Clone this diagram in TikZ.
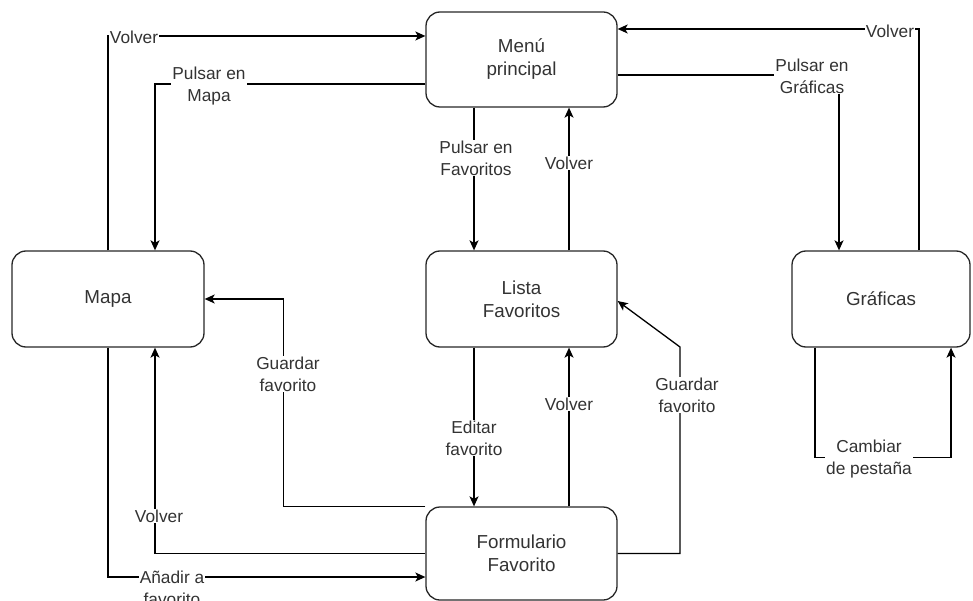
\documentclass[tikz,border=0pt]{standalone}
\usepackage{fontspec}
\setmainfont{Liberation Sans}
\usetikzlibrary{arrows.meta}
\definecolor{txt}{RGB}{51,51,51}
\tikzset{
  box/.style={draw=black!85, line width=1.3pt, rounded corners=14pt, minimum width=191pt, minimum height=95pt, align=center, text=txt, font=\fontsize{18.8}{23}\selectfont},
  lbl/.style={fill=white, inner sep=1pt, align=center, text=txt, font=\fontsize{17.3}{22}\selectfont},
  arr/.style={draw=black, line width=1.3pt, -{Stealth[length=10pt,width=9pt,inset=2.5pt]}},
  ln/.style={draw=black, line width=1.3pt}
}
\begin{document}
\begin{tikzpicture}[x=1pt,y=-1pt]
\useasboundingbox (0,0) rectangle (973,601);
% nodes
\node[box] (menu) at (521.5,59.5) {Menú\\principal};
\node[box, minimum height=96pt] (lista) at (521.5,299) {Lista\\Favoritos};
\node[box, minimum height=93pt] (form) at (521.5,553.5) {Formulario\\Favorito};
\node[box, minimum width=192pt, minimum height=96pt] (mapa) at (108,299) {Mapa};
\node[box, minimum width=178pt, minimum height=96pt] (graf) at (881,299) {Gráficas};
% connectors
\draw[arr] (mapa.north) |- ([yshift=23.5pt]menu.west);
\draw[arr] ([yshift=-24.5pt]menu.west) -| ([xshift=47pt]mapa.north);
\draw[arr] ([yshift=-15.5pt]menu.east) -| ([xshift=-42pt]graf.north);
\draw[arr] ([xshift=38pt]graf.north) |- ([yshift=30.5pt]menu.east);
\draw[arr] ([xshift=-47.5pt]menu.south) -- ([xshift=-47.5pt]lista.north);
\draw[arr] ([xshift=47.5pt]lista.north) -- ([xshift=47.5pt]menu.south);
\draw[arr] ([xshift=-47.5pt]lista.south) -- ([xshift=-47.5pt]form.north);
\draw[arr] ([xshift=47.5pt]form.north) -- ([xshift=47.5pt]lista.south);
\coordinate (g9) at (680,347);
\draw[arr] (form.east) -| (g9) -- ([yshift=-2pt]lista.east);
\draw[arr] (form.north west) -| ([xshift=79pt]mapa.east) -- (mapa.east);
\draw[arr] (form.west) -| ([xshift=47pt]mapa.south);
\draw[arr] (mapa.south) |- ([yshift=-23.5pt]form.west);
\draw[arr] ([xshift=-66pt]graf.south) -- ++(0,110) -| ([xshift=70pt]graf.south);
% labels
\node[lbl] (l1) at (134,37) {Volver};
\node[lbl] (l2) at (209,86) {Pulsar en\\Mapa};
\node[lbl] (l3) at (812,76) {Pulsar en\\Gráficas};
\node[lbl] (l4) at (890,31) {Volver};
\node[lbl] (l5) at (476,158) {Pulsar en\\Favoritos};
\node[lbl] (l6) at (569,163) {Volver};
\node[lbl] (l7) at (474,438) {Editar\\favorito};
\node[lbl] (l8) at (569,404) {Volver};
\node[lbl] (l9) at (687,395) {Guardar\\favorito};
\node[lbl] (l10) at (288,374) {Guardar\\favorito};
\node[lbl] (l11) at (159,516) {Volver};
\node[lbl] (l12) at (172,588) {Añadir a\\favorito};
\node[lbl] (l13) at (869,459) {Cambiar\\de pestaña};
\end{tikzpicture}
\end{document}
